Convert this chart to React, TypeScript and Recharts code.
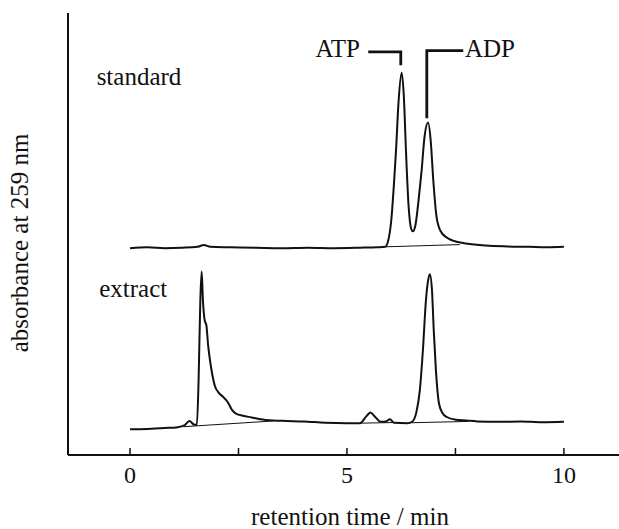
import { LineChart, XAxis, YAxis, Line, ReferenceDot } from "recharts";

// retention time (min) and absorbance (arbitrary units, 0-100 full height)
const standardTime = [
    0, 0.4, 0.8, 1.2, 1.55, 1.7, 1.85, 2.3, 2.9, 3.5, 4.1, 4.7, 5.3, 5.7,
    5.88, 5.95, 6.02, 6.08, 6.13, 6.19, 6.26, 6.31, 6.36, 6.42, 6.48, 6.52,
    6.58, 6.65, 6.72, 6.79, 6.87, 6.93, 6.99, 7.06, 7.15, 7.3, 7.44, 7.7,
    8.2, 8.7, 9.2, 9.6, 10,
];
const standardSignal = [
    46.8, 47.0, 46.8, 46.9, 47.1, 47.5, 47.1, 47.0, 46.9, 46.8, 46.9, 46.8,
    46.9, 47.0, 47.1, 48.5, 53.0, 60.9, 68.8, 80.1, 86.5, 81.3, 68.8, 56.4,
    51.2, 50.6, 52.1, 57.6, 64.3, 72.2, 75.2, 71.1, 62.1, 54.2, 50.8, 49.2,
    48.5, 47.9, 47.4, 47.2, 47.1, 47.0, 47.1,
];

const extractTime = [
    0, 0.4, 0.8, 1.1, 1.25, 1.37, 1.47, 1.54, 1.58, 1.62, 1.65, 1.68, 1.72,
    1.76, 1.8, 1.86, 1.95, 2.05, 2.15, 2.25, 2.35, 2.45, 2.6, 2.8, 3.0, 3.3,
    3.6, 4.0, 4.5, 5.0, 5.3, 5.45, 5.54, 5.65, 5.78, 5.9, 5.99, 6.08, 6.4,
    6.5, 6.6, 6.68, 6.75, 6.82, 6.87, 6.91, 6.96, 7.0, 7.05, 7.12, 7.2, 7.3,
    7.5, 7.75, 8.0, 8.5, 9.0, 9.5, 10,
];
const extractSignal = [
    5.8, 5.9, 6.1, 6.3, 6.7, 7.7, 6.9, 6.8, 16.9, 35.0, 41.5, 35.0, 30.5,
    29.3, 24.8, 20.3, 15.8, 14.0, 13.1, 12.0, 10.2, 9.3, 8.9, 8.5, 8.1, 7.8,
    7.7, 7.6, 7.3, 7.2, 7.2, 8.8, 9.6, 8.6, 7.5, 7.6, 8.1, 7.3, 7.2, 7.5,
    9.7, 14.7, 23.7, 35.0, 39.5, 40.9, 37.2, 28.2, 19.2, 11.7, 9.5, 8.6, 8.0,
    7.8, 7.6, 7.5, 7.6, 7.4, 7.5,
];

// drawn integration baselines under the peaks
const standardBaseTime = [5.88, 7.6];
const standardBaseSignal = [47.1, 47.6];
const extractBaseTime = [1.23, 3.3, 3.31, 5.3, 6.1, 6.11, 6.49, 7.8];
const extractBaseSignal = [6.4, 7.7, null, 7.2, 7.35, null, 7.3, 7.6];

// peak labels and their brackets
const atpBracketTime = [5.49, 6.24, 6.24];
const atpBracketSignal = [91.2, 91.2, 88.2];
const adpBracketTime = [6.84, 6.84, 7.68];
const adpBracketSignal = [76.2, 91.5, 91.5];

const xTicks = [0, 2.5, 5, 7.5, 10];
const xTickLabels = ["0", "", "5", "", "10"];

const ink = "#111";
const serifFamily = "Liberation Serif, DejaVu Serif, serif";

const zip = (xs: number[], ys: (number | null)[]) =>
    xs.map((x, i) => ({ x, y: ys[i] }));

const TimeTick = (props: any) => {
    const { x, y, payload } = props;
    const label = xTickLabels[xTicks.indexOf(payload.value)];
    return (
        <g>
            <line x1={x} y1={y} x2={x} y2={y - 7} stroke={ink} strokeWidth={1.5} />
            {label && (
                <text x={x} y={y + 28} textAnchor="middle" fontFamily={serifFamily} style={{ fontFamily: serifFamily }} fontSize={24} fill={ink}>
                    {label}
                </text>
            )}
        </g>
    );
};

const textAt = (value: string, anchor: "start" | "end") => (p: any) =>
    (
        <text x={p.cx} y={p.cy} textAnchor={anchor} fontFamily={serifFamily} style={{ fontFamily: serifFamily }} fontSize={25} fill={ink}>
            {value}
        </text>
    );

const App = () => {
    return (
        <div style={{ position: "absolute", left: 0, top: 0, background: "#fff", fontFamily: serifFamily }}>
            <LineChart
                width={619}
                height={529}
                margin={{ top: 13, right: 0, left: 66, bottom: 0 }}
                style={{ fontFamily: serifFamily }}
            >
                <XAxis
                    dataKey="x"
                    type="number"
                    domain={[-1.43, 11.27]}
                    ticks={xTicks}
                    allowDataOverflow
                    height={74}
                    tickSize={0}
                    tickMargin={0}
                    tickLine={false}
                    tick={<TimeTick />}
                    axisLine={{ stroke: ink, strokeWidth: 2 }}
                    label={{
                        content: () => (
                            <text x={350} y={525} textAnchor="middle" fontFamily={serifFamily} style={{ fontFamily: serifFamily }} fontSize={25} fill={ink}>
                                retention time / min
                            </text>
                        ),
                    }}
                />
                <YAxis
                    type="number"
                    domain={[0, 100]}
                    width={2}
                    tick={false}
                    tickLine={false}
                    axisLine={{ stroke: ink, strokeWidth: 2 }}
                    label={{
                        content: () => (
                            <text
                                x={28}
                                y={243}
                                transform="rotate(-90 28 243)"
                                textAnchor="middle"
                                fontFamily={serifFamily}
                                style={{ fontFamily: serifFamily }}
                                fontSize={25}
                                fill={ink}
                            >
                                absorbance at 259 nm
                            </text>
                        ),
                    }}
                />
                <Line data={zip(standardBaseTime, standardBaseSignal)} dataKey="y" type="linear" stroke={ink} strokeWidth={1} dot={false} isAnimationActive={false} />
                <Line data={zip(extractBaseTime, extractBaseSignal)} dataKey="y" type="linear" stroke={ink} strokeWidth={1} dot={false} isAnimationActive={false} />
                <Line data={zip(standardTime, standardSignal)} dataKey="y" name="standard" type="monotone" stroke={ink} strokeWidth={2} dot={false} isAnimationActive={false} />
                <Line data={zip(extractTime, extractSignal)} dataKey="y" name="extract" type="monotone" stroke={ink} strokeWidth={2} dot={false} isAnimationActive={false} />
                <Line data={zip(atpBracketTime, atpBracketSignal)} dataKey="y" type="linear" stroke={ink} strokeWidth={2.8} strokeLinejoin="miter" dot={false} isAnimationActive={false} />
                <Line data={zip(adpBracketTime, adpBracketSignal)} dataKey="y" type="linear" stroke={ink} strokeWidth={2.8} strokeLinejoin="miter" dot={false} isAnimationActive={false} />
                <ReferenceDot x={-0.77} y={83.7} r={0} shape={textAt("standard", "start")} />
                <ReferenceDot x={-0.71} y={35.8} r={0} shape={textAt("extract", "start")} />
                <ReferenceDot x={5.3} y={90.1} r={0} shape={textAt("ATP", "end")} />
                <ReferenceDot x={7.72} y={90.1} r={0} shape={textAt("ADP", "start")} />
            </LineChart>
        </div>
    );
};

export default App;
